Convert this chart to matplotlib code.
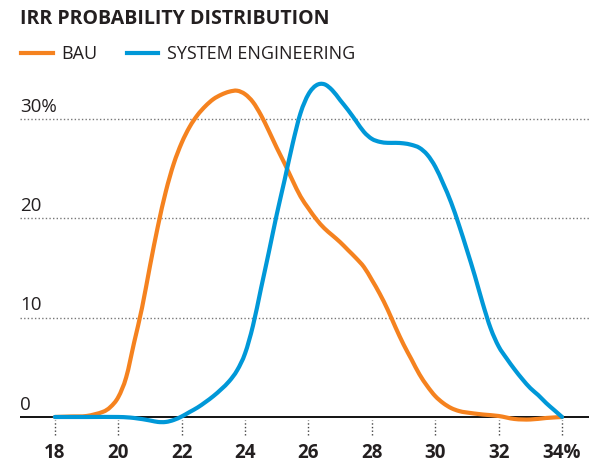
import numpy as np
import matplotlib.pyplot as plt
from matplotlib.lines import Line2D
from matplotlib.path import Path
from matplotlib.patches import PathPatch

# IRR (%) vs probability (%)
bau_x = [18, 18.5, 19, 19.5, 19.75, 20, 20.25, 20.5, 20.75, 21, 21.25, 21.5, 21.75,
         22, 22.25, 22.5, 22.75, 23, 23.25, 23.5, 23.75, 24, 24.25, 24.5, 24.75,
         25, 25.25, 25.5, 25.75, 26, 26.25, 26.5, 26.75, 27, 27.25, 27.5, 27.75,
         28, 28.25, 28.5, 28.75, 29, 29.25, 29.5, 29.75, 30, 30.25, 30.5, 30.75,
         31, 31.5, 32, 32.5, 33, 33.5, 34]
bau_y = [0, 0.05, 0.1, 0.5, 1.0, 2.0, 4.0, 7.5, 11.0, 15.2, 19.2, 22.7, 25.5,
         27.6, 29.2, 30.4, 31.3, 32.0, 32.45, 32.75, 32.85, 32.5, 31.7, 30.4, 28.8,
         27.1, 25.5, 23.8, 22.2, 21.0, 19.9, 19.0, 18.3, 17.6, 16.8, 16.0, 15.1,
         13.8, 12.4, 10.8, 9.0, 7.3, 5.8, 4.3, 3.1, 2.1, 1.4, 0.9, 0.6,
         0.45, 0.25, 0.1, -0.2, -0.25, -0.1, 0]

se_x = [18, 19, 20, 20.5, 21, 21.25, 21.5, 21.75, 22, 22.25, 22.5, 22.75, 23,
        23.25, 23.5, 23.75, 24, 24.25, 24.5, 24.75, 25, 25.25, 25.5, 25.75, 26,
        26.25, 26.5, 26.75, 27, 27.25, 27.5, 27.75, 28, 28.25, 28.5, 28.75, 29,
        29.25, 29.5, 29.75, 30, 30.25, 30.5, 30.75, 31, 31.25, 31.5, 31.75, 32,
        32.25, 32.5, 32.75, 33, 33.25, 33.5, 33.75, 34]
se_y = [0, 0, 0, -0.1, -0.35, -0.5, -0.5, -0.3, 0.05, 0.5, 0.95, 1.5, 2.1,
        2.8, 3.6, 4.7, 6.4, 9.2, 12.9, 16.6, 20.4, 23.9, 27.5, 30.6, 32.5,
        33.4, 33.5, 32.9, 31.9, 30.9, 29.8, 28.7, 28.0, 27.7, 27.6, 27.6, 27.55,
        27.4, 27.1, 26.4, 25.2, 23.5, 21.6, 19.3, 16.8, 14.2, 11.4, 8.9, 7.1,
        5.9, 4.8, 3.8, 2.9, 2.2, 1.4, 0.7, 0]

x_ticks = [18, 20, 22, 24, 26, 28, 30, 32, 34]
x_labels = ["18", "20", "22", "24", "26", "28", "30", "32", "34%"]
y_ticks = [0, 10, 20, 30]
y_labels = ["0", "10", "20", "30%"]

orange = "#F5821F"
blue = "#0098D8"
ink = "#231F20"


def smooth_path(xs, ys):
    # catmull-rom through the points, drawn as bezier segments
    p = np.column_stack([xs, ys]).astype(float)
    verts = [p[0]]
    codes = [Path.MOVETO]
    n = len(p)
    for i in range(n - 1):
        p0 = p[i - 1] if i > 0 else p[i]
        p1, p2 = p[i], p[i + 1]
        p3 = p[i + 2] if i + 2 < n else p[i + 1]
        verts += [p1 + (p2 - p0) / 6, p2 - (p3 - p1) / 6, p2]
        codes += [Path.CURVE4] * 3
    return Path(verts, codes)


plt.rcParams["font.family"] = ["Open Sans", "DejaVu Sans"]

fig = plt.figure(figsize=(5.89, 4.61), dpi=100)
ax = fig.add_axes([20 / 589, 0.0416, 569 / 589, 0.7972])
ax.set_xlim(16.9, 34.85)
ax.set_ylim(-2.5, 34.5)

for v in y_ticks[1:]:
    ax.axhline(v, color="#777777", lw=1, linestyle=(0, (1, 1.6)), zorder=1)
ax.axhline(0, color="black", lw=1.3, zorder=2)
ax.vlines(x_ticks, -1.85, -0.3, colors="#444444", lw=1, linestyles=(0, (1, 1.6)))

ax.add_patch(PathPatch(smooth_path(bau_x, bau_y), fill=False, edgecolor=orange,
                       lw=3, capstyle="round", joinstyle="round", zorder=3))
ax.add_patch(PathPatch(smooth_path(se_x, se_y), fill=False, edgecolor=blue,
                       lw=3, capstyle="round", joinstyle="round", zorder=4))

for v, lab in zip(y_ticks, y_labels):
    ax.annotate(lab, (16.9, v), xytext=(0, 2.5), textcoords="offset points",
                ha="left", va="bottom", fontsize=13.5, color=ink)

ax.set_xticks(x_ticks)
ax.set_xticklabels(x_labels, fontsize=13.5, fontweight="bold", color=ink)
ax.tick_params(axis="x", length=0, pad=0.5)
ax.set_yticks([])
for s in ax.spines.values():
    s.set_visible(False)

fig.text(20 / 589, 1 - 18.5 / 461, "IRR PROBABILITY DISTRIBUTION",
         fontsize=14, fontweight="bold", color=ink, va="center", ha="left")

handles = [Line2D([], [], color=orange, lw=3), Line2D([], [], color=blue, lw=3)]
fig.legend(handles, ["BAU", "SYSTEM ENGINEERING"], loc="upper left",
           bbox_to_anchor=(21 / 589, 1 - 45 / 461), ncol=2, frameon=False,
           fontsize=13, handlelength=1.75, handletextpad=0.5, columnspacing=1.6,
           borderpad=0, borderaxespad=0, labelcolor=ink)

plt.savefig("out.png", dpi=100)
print("out.png creada")
